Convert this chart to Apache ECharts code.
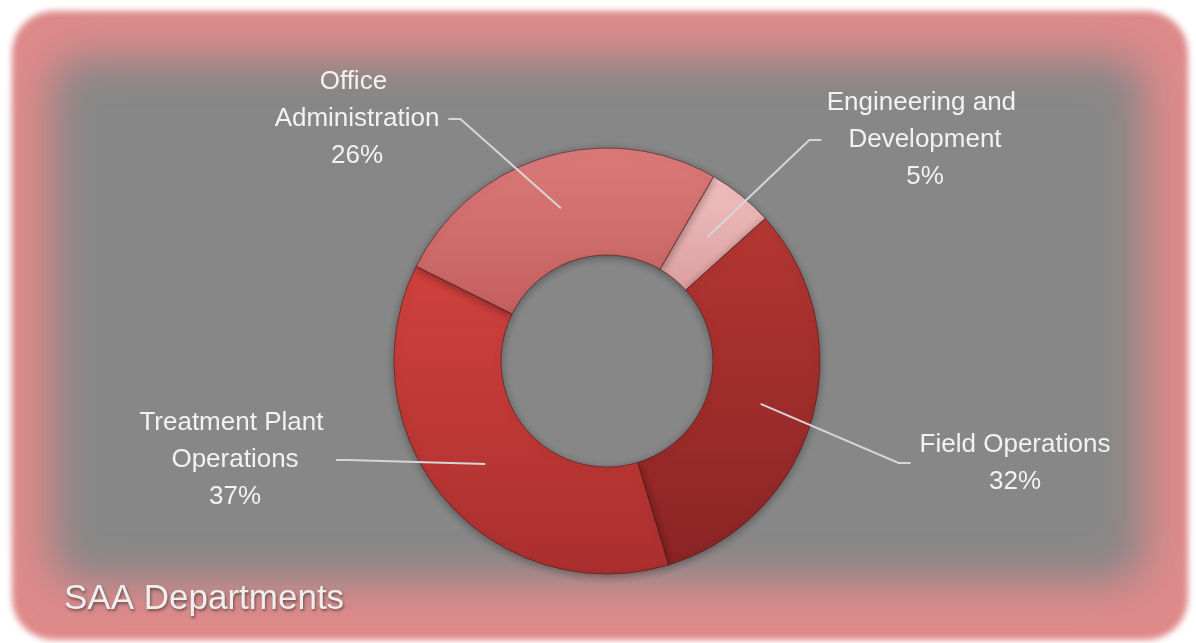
<!DOCTYPE html>
<html>
<head>
<meta charset="utf-8">
<script src="https://cdn.jsdelivr.net/npm/echarts@6/dist/echarts.min.js"></script>
<style>
html,body{margin:0;padding:0;background:#ffffff;}
#chart{width:1196px;height:643px;}
</style>
</head>
<body>
<div id="chart"></div>
<script>
// ---- data ----
const categories = ['Engineering and Development', 'Field Operations', 'Treatment Plant Operations', 'Office Administration'];
const values = [5, 32, 37, 26];
const chartTitle = 'SAA Departments';

// ---- styles / layout ----
const sliceColors = [
  ['#f0bfbf', '#dc9f9f'],
  ['#b43632', '#8a2424'],
  ['#d0413d', '#aa2f2e'],
  ['#dc7a7a', '#c35f5f']
];
const labelPos = [[925, 140], [1015, 463], [235, 460], [357, 119]];
const CX = 607, CY = 361, R_IN = 106, R_OUT = 213, START_CW = 30; // degrees clockwise from 12 o'clock
const FONT = "'Liberation Sans',Arial,sans-serif";
const LABEL_SIZE = 26, WRAP_W = 205;

const total = values.reduce((a, b) => a + b, 0);
function anchorPoint(i) {
  let cum = 0;
  for (let k = 0; k < i; k++) cum += values[k];
  const a = (START_CW + 360 * (cum + values[i] / 2) / total) * Math.PI / 180;
  const r = (R_IN + R_OUT) / 2;
  return [CX + r * Math.sin(a), CY - r * Math.cos(a)];
}
const mctx = document.createElement('canvas').getContext('2d');
mctx.font = LABEL_SIZE + 'px ' + FONT;
function widestLine(text) {
  const words = text.split(' ');
  let line = '', best = 0;
  words.forEach(w => {
    const t = line ? line + ' ' + w : w;
    if (mctx.measureText(t).width > WRAP_W && line) {
      best = Math.max(best, mctx.measureText(line).width);
      line = w;
    } else line = t;
  });
  return Math.max(best, mctx.measureText(line).width);
}

const chart = echarts.init(document.getElementById('chart'), null, {renderer: 'canvas'});

const ringData = categories.map((name, i) => ({
  name: name,
  value: values[i],
  itemStyle: {
    color: new echarts.graphic.LinearGradient(0, 0, 0, 1, [
      {offset: 0, color: sliceColors[i][0]},
      {offset: 1, color: sliceColors[i][1]}
    ])
  }
}));
const labelData = categories.map((name, i) => ({name: name, value: values[i]}));

const common = {
  type: 'pie',
  center: [CX, CY],
  radius: [R_IN, R_OUT],
  startAngle: 90 - START_CW,
  clockwise: true,
  avoidLabelOverlap: false,
  percentPrecision: 0,
  emphasis: {disabled: true}
};

chart.setOption({
  animation: false,
  backgroundColor: '#ffffff',
  graphic: [
    { // soft pink frame
      type: 'rect', z: -10, silent: true,
      shape: {x: 12 - 2000, y: 11, width: 1176, height: 629, r: 42},
      style: {fill: '#df8a8a', shadowColor: '#df8a8a', shadowBlur: 6, shadowOffsetX: 2000}
    },
    { // blurred grey panel
      type: 'rect', z: -9, silent: true,
      shape: {x: 52 - 2000, y: 58, width: 1092, height: 524, r: 30},
      style: {fill: '#878787', shadowColor: '#878787', shadowBlur: 44, shadowOffsetX: 2000}
    }
  ],
  title: {
    text: chartTitle,
    left: 59, top: 577,
    textStyle: {
      fontFamily: FONT, fontSize: 35, fontWeight: 'normal', color: '#efefef',
      textShadowColor: 'rgba(0,0,0,0.45)', textShadowBlur: 3, textShadowOffsetX: 1, textShadowOffsetY: 2
    }
  },
  series: [
    Object.assign({}, common, {
      name: 'ring', z: 2,
      itemStyle: {
        borderColor: 'rgba(70,20,20,0.55)', borderWidth: 1,
        shadowBlur: 8, shadowColor: 'rgba(0,0,0,0.35)', shadowOffsetY: 2
      },
      label: {show: false},
      labelLine: {show: false},
      data: ringData
    }),
    Object.assign({}, common, {
      name: 'labels', z: 5, silent: true,
      itemStyle: {color: 'rgba(0,0,0,0)', borderWidth: 0},
      label: {
        show: true,
        formatter: '{b}\n{d}%',
        fontFamily: FONT, fontSize: LABEL_SIZE, lineHeight: 37,
        color: '#f2f2f2', align: 'center',
        width: WRAP_W, overflow: 'break'
      },
      labelLine: {
        show: true, showAbove: true,
        lineStyle: {color: '#d6d6d6', width: 2}
      },
      labelLayout: function (params) {
        const i = params.dataIndex;
        const [x, y] = labelPos[i];
        const anchor = anchorPoint(i);
        const half = widestLine(categories[i]) / 2;
        const isLeft = x < CX;
        const edgeX = isLeft ? x + half + 9 : x - half - 9;
        const elbowX = isLeft ? edgeX + 12 : edgeX - 12;
        return {
          x: x, y: y, align: 'center', verticalAlign: 'middle',
          labelLinePoints: [anchor, [elbowX, y], [edgeX, y]]
        };
      },
      data: labelData
    })
  ]
});
</script>
</body>
</html>
